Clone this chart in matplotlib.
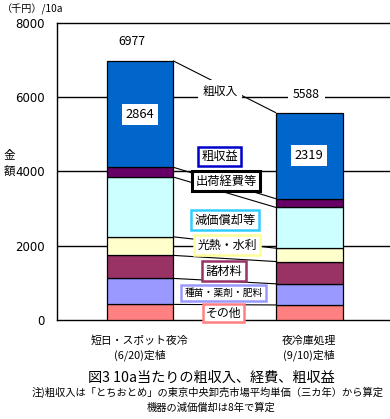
import matplotlib
matplotlib.use("Agg")
import matplotlib.pyplot as plt
import numpy as np

plt.rcParams['font.family'] = ['Noto Sans CJK JP', 'DejaVu Sans']

categories = ["短日・スポット夜冷\n(6/20)定植", "夜冷庫処理\n(9/10)定植"]
series_names = ["その他", "種苗・薬剤・肥料", "諸材料", "光熱・水利", "減価償却等", "出荷経費等", "粗収益"]
sonota = [420, 405]
shubyo = [700, 570]
shozairyo = [620, 600]
kounetsu = [500, 360]
genka = [1610, 1100]
shukka = [263, 234]
soshueki = [2864, 2319]
soshunyu = [6977, 5588]
yticks = [0, 2000, 4000, 6000, 8000]

colors = ["#FF8080", "#9999FF", "#993366", "#FFFFCC", "#CCFFFF", "#660066", "#0066CC"]
box_edges = ["#FF8080", "#9999FF", "#993366", "#FFFF99", "#33CCFF", "#000000", "#0000CC"]

W, H = 390, 419
fig = plt.figure(figsize=(W / 100, H / 100), dpi=100)
ax = fig.add_axes([57 / W, (H - 320) / H, (W - 57) / W, 297 / H])

x = np.arange(len(categories))
bw = 0.396
data = [sonota, shubyo, shozairyo, kounetsu, genka, shukka, soshueki]
bottom = np.zeros(2)
tops = []
for vals, c in zip(data, colors):
    v = np.array(vals, dtype=float)
    ax.bar(x, v, bw, bottom=bottom, color=c, edgecolor="black", linewidth=0.9, zorder=3)
    bottom = bottom + v
    tops.append(bottom.copy())

# series lines between bars
for t in tops:
    ax.plot([x[0] + bw / 2, x[1] - bw / 2], [t[0], t[1]], color="black", lw=0.8, zorder=2)

ax.set_xlim(-0.491, 1.479)
ax.set_ylim(0, 8000)
ax.set_yticks(yticks)
ax.set_yticklabels([str(v) for v in yticks], fontsize=8.5, family=['DejaVu Sans'])
for yv in yticks[1:-1]:
    ax.axhline(yv, color="black", lw=1.0, zorder=1)
ax.tick_params(axis='y', length=0, pad=9)
ax.set_xticks(x)
ax.set_xticklabels(categories, fontsize=7.8, linespacing=1.4)
ax.tick_params(axis='x', length=0, pad=11)
ax.spines["right"].set_visible(False)
for s in ["left", "bottom", "top"]:
    ax.spines[s].set_linewidth(1.0)

# totals labels
ax.annotate(str(soshunyu[0]), (x[0], soshunyu[0]), xytext=(-6, 14), textcoords="offset points",
            ha="center", va="center", fontsize=8.8, zorder=5)
ax.annotate(str(soshunyu[1]), (x[1], soshunyu[1]), xytext=(-2, 13), textcoords="offset points",
            ha="center", va="center", fontsize=8.8, zorder=5,
            bbox=dict(boxstyle="square,pad=0.4", fc="white", ec="none"))
# inside 粗収益 labels
for i in range(2):
    mid = tops[5][i] + soshueki[i] / 2
    ax.text(x[i], mid, str(soshueki[i]), ha="center", va="center", fontsize=9.3, zorder=5,
            bbox=dict(boxstyle="square,pad=0.3", fc="white", ec="none"))

def fx(px):
    return px / W

def fy(py):
    return 1 - py / H

# 粗収入 label
fig.text(fx(220), fy(91), "粗収入", ha="center", va="center", fontsize=8.5, zorder=6,
         bbox=dict(boxstyle="square,pad=0.35", fc="white", ec="none"))

# boxed legend-like labels
box_pos = [(223.5, 313, 8.6, 0.2), (223.5, 293, 7.0, 0.35), (224, 271, 8.8, 0.3), (227, 245, 8.6, 0.3),
           (225, 220, 8.8, 0.3), (226, 181, 8.8, 0.3), (219.5, 156.5, 8.8, 0.25)]
for name, ec, (px, py, fs, pad) in zip(series_names, box_edges, box_pos):
    lw = 2.2 if name == "出荷経費等" else 1.8
    fig.text(fx(px), fy(py), name, ha="center", va="center", fontsize=fs, zorder=6,
             bbox=dict(boxstyle=f"square,pad={pad}", fc="white", ec=ec, lw=lw))

fig.text(fx(33), fy(9), "（千円）/10a", ha="center", va="center", fontsize=7.3)
fig.text(fx(9), fy(163), "金\n額", ha="center", va="center", fontsize=8.3, linespacing=1.3)
fig.text(fx(211.5), fy(377.5), "図3 10a当たりの粗収入、経費、粗収益", ha="center", va="center", fontsize=10.2)
fig.text(fx(208), fy(392.5), "注)粗収入は「とちおとめ」の東京中央卸売市場平均単価（三カ年）から算定",
         ha="center", va="center", fontsize=7.4)
fig.text(fx(211), fy(408), "機器の減価償却は8年で算定", ha="center", va="center", fontsize=7.4)

fig.savefig("out.png", dpi=100)
